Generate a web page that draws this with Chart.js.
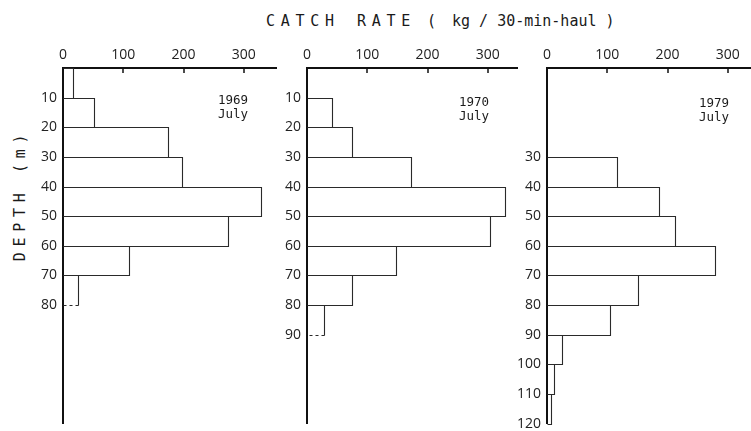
<!DOCTYPE html>
<html>
<head>
<meta charset="utf-8">
<script src="https://cdn.jsdelivr.net/npm/chart.js@4.4.0/dist/chart.umd.min.js"></script>
<style>
  html, body { margin: 0; padding: 0; background: #fff; overflow: hidden; }
  body { width: 751px; height: 431px; position: relative; font-family: "DejaVu Sans Mono", monospace; color: #1a1a1a; }
  .panel { position: absolute; top: 30px; height: 408px; }
  .title { position: absolute; top: 12px; font-size: 15px; white-space: pre; }
  .spaced { letter-spacing: 5.7px; }
  .note { position: absolute; font-size: 12.5px; line-height: 13.5px; }
  .ylabel { position: absolute; left: 20px; top: 195px; transform: translate(-50%, -50%) rotate(-90deg);
            font-size: 15px; white-space: pre; letter-spacing: 5.7px; }
</style>
</head>
<body>
<div class="title spaced" style="left:266px">CATCH</div>
<div class="title spaced" style="left:357px">RATE</div>
<div class="title" style="left:427px">(</div>
<div class="title" style="left:452px">kg / 30-min-haul )</div>
<div class="ylabel">DEPTH (m)</div>

<div class="panel" style="left:18px; width:259px"><canvas id="chart1969"></canvas></div>
<div class="panel" style="left:262px; width:256px"><canvas id="chart1970"></canvas></div>
<div class="panel" style="left:502px; width:253px"><canvas id="chart1979"></canvas></div>

<div class="note" style="left:218px; top:93px">1969<br>July</div>
<div class="note" style="left:459px; top:95px">1970<br>July</div>
<div class="note" style="left:699px; top:96px">1979<br>July</div>

<script>
// catch-rate axis ticks (kg / 30-min-haul)
const xTicks = [0, 100, 200, 300];

// 1969 July: depth bins (top of each 10 m layer) and catch rates
const depths1969 = [0, 10, 20, 30, 40, 50, 60, 70];
const rates1969 = [16, 52, 175, 197, 329, 273, 109, 25];
const depthTicks1969 = [10, 20, 30, 40, 50, 60, 70, 80];

// 1970 July
const depths1970 = [10, 20, 30, 40, 50, 60, 70, 80];
const rates1970 = [42, 75, 172, 328, 303, 147, 75, 29];
const depthTicks1970 = [10, 20, 30, 40, 50, 60, 70, 80, 90];

// 1979 July
const depths1979 = [30, 40, 50, 60, 70, 80, 90, 100, 110];
const rates1979 = [116, 186, 213, 278, 151, 104, 25, 11, 6];
const depthTicks1979 = [30, 40, 50, 60, 70, 80, 90, 100, 110, 120];

// open boxes for the bars, last bottom edge dashed where the layer was incomplete
const outlineBars = {
    id: 'outlineBars',
    afterDatasetsDraw(chart, args, opts) {
        const ctx = chart.ctx;
        const bars = chart.getDatasetMeta(0).data;
        const snap = v => Math.round(v) + 0.5;
        ctx.save();
        ctx.strokeStyle = '#2a2a2a';
        ctx.lineWidth = 1.1;
        bars.forEach((bar, i) => {
            const top = snap(bar.y - bar.height / 2);
            const bottom = snap(bar.y + bar.height / 2);
            const left = snap(bar.base);
            const right = snap(bar.x);
            const dashed = opts.dashLast && i === bars.length - 1;
            ctx.setLineDash([]);
            ctx.beginPath();
            ctx.moveTo(left, top);
            ctx.lineTo(right, top);
            ctx.lineTo(right, bottom);
            if (!dashed) ctx.lineTo(left, bottom);
            ctx.stroke();
            if (dashed) {
                ctx.setLineDash([3, 3]);
                ctx.beginPath();
                ctx.moveTo(right, bottom);
                ctx.lineTo(left, bottom);
                ctx.stroke();
            }
        });
        ctx.restore();
    }
};

// small tick marks pointing into the plot from the top axis
const innerTicks = {
    id: 'innerTicks',
    afterDraw(chart) {
        const xs = chart.scales.x;
        const ctx = chart.ctx;
        ctx.save();
        ctx.strokeStyle = '#111';
        ctx.lineWidth = 1.5;
        xs.ticks.forEach(t => {
            if (t.value <= 0) return;
            const px = Math.round(xs.getPixelForValue(t.value));
            ctx.beginPath();
            ctx.moveTo(px, xs.bottom);
            ctx.lineTo(px, xs.bottom + 5);
            ctx.stroke();
        });
        ctx.restore();
    }
};

const tickFont = { family: 'Open Sans', size: 14 };

function makePanel(id, depths, rates, depthTicks, xMax, dashLast) {
    return new Chart(document.getElementById(id), {
        type: 'bar',
        data: {
            datasets: [{
                data: depths.map((d, i) => ({ x: rates[i], y: d + 5 })),
                backgroundColor: 'rgba(0,0,0,0)',
                borderWidth: 0,
                categoryPercentage: 1,
                barPercentage: 1
            }]
        },
        options: {
            indexAxis: 'y',
            responsive: true,
            maintainAspectRatio: false,
            animation: false,
            layout: { padding: { top: 0, right: 0, bottom: 10, left: 0 } },
            plugins: {
                legend: { display: false },
                tooltip: { enabled: false },
                outlineBars: { dashLast: dashLast }
            },
            scales: {
                x: {
                    type: 'linear',
                    position: 'top',
                    min: 0,
                    max: xMax,
                    offset: false,
                    afterBuildTicks: s => { s.ticks = xTicks.map(v => ({ value: v })); },
                    afterFit: s => { s.height = 38; },
                    grid: { display: false, drawTicks: false },
                    border: { display: true, color: '#111', width: 2 },
                    ticks: { color: '#222', font: tickFont, padding: 5, maxRotation: 0, autoSkip: false }
                },
                y: {
                    type: 'linear',
                    reverse: true,
                    min: 0,
                    max: 120,
                    offset: false,
                    afterBuildTicks: s => { s.ticks = depthTicks.map(v => ({ value: v })); },
                    afterFit: s => { s.width = 45; },
                    grid: { display: false, drawTicks: false, offset: false },
                    border: { display: true, color: '#111', width: 2 },
                    ticks: { color: '#222', font: tickFont, padding: 6, autoSkip: false }
                }
            }
        },
        plugins: [outlineBars, innerTicks]
    });
}

makePanel('chart1969', depths1969, rates1969, depthTicks1969, 355, true);
makePanel('chart1970', depths1970, rates1970, depthTicks1970, 350, true);
makePanel('chart1979', depths1979, rates1979, depthTicks1979, 345, false);
</script>
</body>
</html>
